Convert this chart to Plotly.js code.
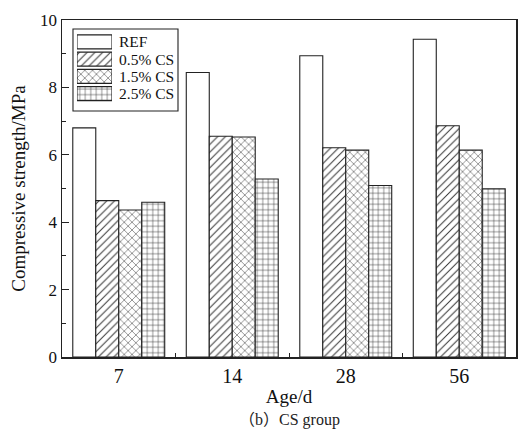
<!DOCTYPE html>
<html><head><meta charset="utf-8">
<script src="https://cdn.plot.ly/plotly-3.0.1.min.js"></script>
<style>body{margin:0;background:#fff}#c{width:523px;height:433px}</style>
</head><body><div id="c"></div>
<script>
const ages = ["7", "14", "28", "56"];
const seriesNames = ["REF", "0.5% CS", "1.5% CS", "2.5% CS"];
const ref = [6.80, 8.44, 8.94, 9.43];
const cs05 = [4.64, 6.55, 6.21, 6.86];
const cs15 = [4.36, 6.53, 6.14, 6.14];
const cs25 = [4.59, 5.28, 5.09, 4.99];
const patterns = ["", "/", "x", "+"];
const values = [ref, cs05, cs15, cs25];
const swatchLength = [1, 1, 1, 1];

const serif = "'Liberation Serif', 'Times New Roman', serif";
const lineCol = "#222";
const traces = values.map((v, i) => ({
  type: "bar", x: ages, y: v, name: seriesNames[i], showlegend: false,
  marker: {
    color: "white",
    line: {color: lineCol, width: 1.1},
    pattern: {shape: patterns[i], fgcolor: "#333", bgcolor: "white", size: 5.5, solidity: 0.18}
  }
}));
// legend swatches drawn as a small bar chart on a helper axis
traces.push({
  type: "bar", orientation: "h", x: swatchLength, y: seriesNames, xaxis: "x2", yaxis: "y2",
  showlegend: false, hoverinfo: "skip",
  marker: {
    color: "white", line: {color: lineCol, width: 1.1},
    pattern: {shape: patterns, fgcolor: "#333", bgcolor: "white", size: 5.5, solidity: 0.18}
  }
});

const legendText = seriesNames.map(n => ({
  text: n, xref: "paper", yref: "y2", x: 0.121, y: n, xanchor: "left", yanchor: "middle",
  showarrow: false, font: {family: serif, size: 15.5, color: "#111"}
}));

const layout = {
  width: 523, height: 433,
  margin: {l: 62, r: 7, t: 20, b: 76},
  paper_bgcolor: "white", plot_bgcolor: "white",
  barmode: "group", bargap: 0.19, bargroupgap: 0,
  font: {family: serif, size: 16, color: "#111"},
  showlegend: false,
  xaxis: {
    type: "category", showline: true, mirror: true, linecolor: lineCol, linewidth: 1.5,
    ticks: "inside", tickson: "boundaries", ticklen: 4, tickcolor: lineCol,
    showgrid: false, tickfont: {family: serif, size: 20, color: "#111"},
    title: {text: "Age/d", font: {family: serif, size: 19}, standoff: 4}
  },
  yaxis: {
    range: [0, 10], dtick: 2, showline: true, mirror: true, linecolor: lineCol, linewidth: 1.5,
    ticks: "inside", ticklen: 7, tickcolor: lineCol, showgrid: false, zeroline: false,
    minor: {ticks: "inside", dtick: 1, ticklen: 4, tickcolor: lineCol},
    tickfont: {family: serif, size: 17, color: "#111"},
    title: {text: "Compressive strength/MPa", font: {family: serif, size: 19}, standoff: 9}
  },
  xaxis2: {domain: [0.033, 0.1101], range: [0, 1], anchor: "y2", visible: false, fixedrange: true},
  yaxis2: {domain: [0.7504, 0.9662], anchor: "x2", type: "category", autorange: "reversed",
    visible: false, fixedrange: true},
  shapes: [{type: "rect", xref: "paper", yref: "paper", x0: 0.0242, x1: 0.2555, y0: 0.730, y1: 0.9733,
    line: {color: lineCol, width: 1.1}, fillcolor: "rgba(0,0,0,0)", layer: "below"}],
  annotations: legendText.concat([{
    text: "（b）CS group", xref: "paper", yref: "paper", x: 0.5, y: -0.187,
    xanchor: "center", yanchor: "middle", showarrow: false,
    font: {family: "'Liberation Serif', 'Noto Sans CJK SC', serif", size: 16, color: "#222"}
  }])
};
Plotly.newPlot("c", traces, layout, {displayModeBar: false, staticPlot: true});
</script></body></html>
